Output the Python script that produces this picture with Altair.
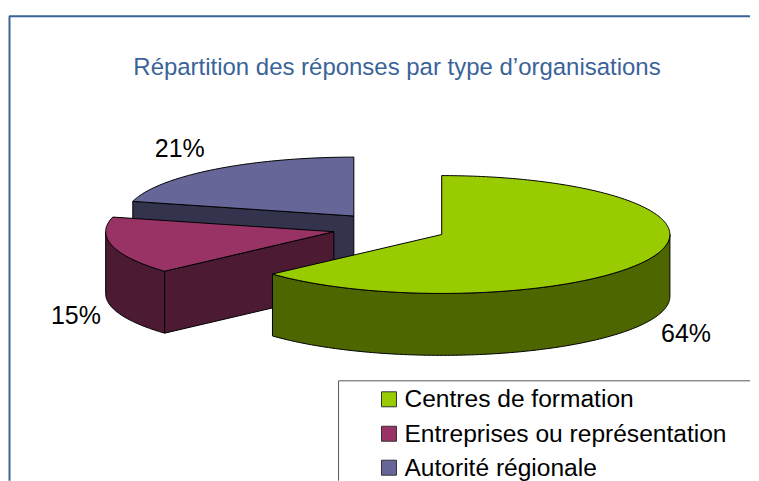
import numpy as np
import pandas as pd
import altair as alt

# ---- values
categories = ["Centres de formation", "Entreprises ou représentation", "Autorité régionale"]
shares = [63.3, 15.7, 21.0]
labels = ["64%", "15%", "21%"]
top_colors = ["#99CC00", "#993366", "#666699"]
wall_colors = ["#4D6600", "#4D1A33", "#33334D"]
title_text = "Répartition des réponses par type d’organisations"

# ---- layout (page pixels)
apex_x = [442.3, 334.3, 354.3]
apex_y = [234.5, 231.7, 216.0]
RX, RY, DEPTH = 228.5, 59.0, 62.0
label_x = [687, 76, 180]
label_y = [334, 316, 149]
legend_y = [400, 435, 469]
RIGHT, BOTTOM = 751, 481

X = alt.Scale(domain=[8, RIGHT], range=[0, RIGHT - 8], nice=False, zero=False)
Y = alt.Scale(domain=[8, BOTTOM], range=[0, BOTTOM - 8], nice=False, zero=False)
xe = lambda f="x": alt.X(f"{f}:Q", scale=X, axis=None)
ye = lambda f="y": alt.Y(f"{f}:Q", scale=Y, axis=None)


def arc(i, a0, a1):
    ts = np.radians(np.linspace(a0, a1, max(2, int(abs(a1 - a0)) + 1)))
    return apex_x[i] + RX * np.sin(ts), apex_y[i] - RY * np.cos(ts)


def poly(xs, ys, fill):
    df = pd.DataFrame({"x": xs, "y": ys, "o": range(len(xs))})
    return alt.Chart(df).mark_line(
        fill=fill, stroke="#000000", strokeWidth=1, interpolate="linear-closed"
    ).encode(x=xe(), y=ye(), order="o:Q")


def wall(xs, ys, fill):
    xs, ys = np.asarray(xs, float), np.asarray(ys, float)
    return poly(np.r_[xs, xs[::-1]], np.r_[ys, ys[::-1] + DEPTH], fill)


cum = np.cumsum([0] + shares) * 3.6
layers = []

# frame
frame_h = alt.Chart(pd.DataFrame({"x": [9], "x2": [RIGHT], "y": [16]})).mark_rule(color="#3A6499", strokeWidth=2).encode(
    x=xe(), x2="x2:Q", y=ye())
frame_v = alt.Chart(pd.DataFrame({"x": [9.5], "y": [16], "y2": [BOTTOM]})).mark_rule(color="#3A6499", strokeWidth=2).encode(
    x=xe(), y=ye(), y2="y2:Q")
layers += [frame_h, frame_v]

# title
layers.append(alt.Chart(pd.DataFrame({"x": [397.5], "y": [68], "t": [title_text]})).mark_text(
    font="Liberation Sans", fontSize=24, color="#3A6499", align="center", baseline="middle"
).encode(x=xe(), y=ye(), text="t:N"))

# third slice (back)
i = 2
tx, ty = arc(i, cum[2], cum[2])
layers.append(wall([tx[0], apex_x[i]], [ty[0], apex_y[i]], wall_colors[i]))
ax, ay = arc(i, cum[2], cum[3])
layers.append(poly(np.r_[apex_x[i], ax], np.r_[apex_y[i], ay], top_colors[i]))

# second slice
i = 1
ax, ay = arc(i, cum[1], 270)
layers.append(wall(ax, ay, wall_colors[i]))
layers.append(wall([ax[0], apex_x[i]], [ay[0], apex_y[i]], wall_colors[i]))
ax, ay = arc(i, cum[1], cum[2])
layers.append(poly(np.r_[apex_x[i], ax], np.r_[apex_y[i], ay], top_colors[i]))

# first slice (front)
i = 0
ax, ay = arc(i, 90, cum[1])
layers.append(wall(ax, ay, wall_colors[i]))
ax, ay = arc(i, cum[0], cum[1])
layers.append(poly(np.r_[apex_x[i], ax], np.r_[apex_y[i], ay], top_colors[i]))

# data labels
layers.append(alt.Chart(pd.DataFrame({"x": label_x, "y": label_y, "t": labels})).mark_text(
    font="Liberation Sans", fontSize=25, color="#000000", align="center", baseline="middle"
).encode(x=xe(), y=ye(), text="t:N"))

# legend
box_h = alt.Chart(pd.DataFrame({"x": [339], "x2": [RIGHT], "y": [381]})).mark_rule(color="#555555", strokeWidth=1).encode(
    x=xe(), x2="x2:Q", y=ye())
box_v = alt.Chart(pd.DataFrame({"x": [339], "y": [381], "y2": [BOTTOM]})).mark_rule(color="#555555", strokeWidth=1).encode(
    x=xe(), y=ye(), y2="y2:Q")
leg = pd.DataFrame({"sx": [389.5] * 3, "tx": [405] * 3, "y": [399.5, 434, 468], "ty": legend_y, "t": categories, "c": top_colors})
swatch = alt.Chart(leg).mark_square(size=225, opacity=1, stroke="#333333", strokeWidth=1).encode(
    x=xe("sx"), y=ye(), fill=alt.Fill("c:N", scale=None))
legtxt = alt.Chart(leg).mark_text(
    font="Liberation Sans", fontSize=24.6, color="#000000", align="left", baseline="middle"
).encode(x=xe("tx"), y=ye("ty"), text="t:N")
layers += [box_h, box_v, swatch, legtxt]

chart = alt.layer(*layers).properties(
    width=RIGHT - 8, height=BOTTOM - 8, padding=0, background="#FFFFFF"
).configure_view(stroke=None)

chart.save("out.html", embed_options={"renderer": "svg", "actions": False})
